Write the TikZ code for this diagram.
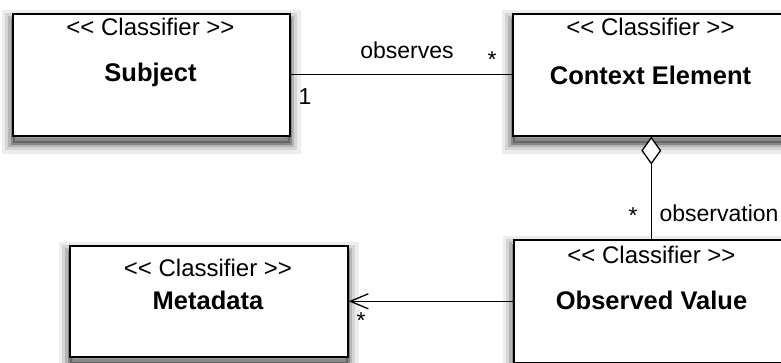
\documentclass[tikz,border=0pt]{standalone}
\usepackage{fontspec}
\setmainfont{Liberation Sans}
\usetikzlibrary{positioning,arrows.meta}

\newcommand{\stereotxt}{<\kern0pt< Classifier >\kern0pt>}

\tikzset{
  softshadow/.style={
    preaction={draw=black, opacity=0.07, line width=22pt, transform canvas={yshift=-7pt}},
    preaction={draw=black, opacity=0.10, line width=15pt, transform canvas={yshift=-7pt}},
    preaction={draw=black, opacity=0.15, line width=9pt, transform canvas={yshift=-7pt}},
    preaction={draw=black, fill=black, opacity=0.25, line width=4pt, transform canvas={yshift=-7pt}}},
  classbox/.style={draw, line width=1.6pt, fill=white, anchor=north west,
    minimum width=277pt, minimum height=122pt, softshadow},
  stereo/.style={font=\fontsize{24}{28}\selectfont, inner sep=0pt},
  cname/.style={font=\fontsize{25.5}{30}\selectfont\bfseries, inner sep=0pt},
  lbl/.style={font=\fontsize{23}{28}\selectfont, inner sep=0pt},
  conn/.style={line width=1.3pt},
}

\begin{document}
\begin{tikzpicture}[x=1pt, y=-1pt]
  \useasboundingbox (0,0) rectangle (781,363);
  \clip (0,0) rectangle (781,363);

  % classes
  \node[classbox] (subj) at (12,13) {};
  \node[classbox] (ctx) at (512,13) {};
  \node[classbox, minimum width=278pt, minimum height=111pt] (meta) at (69,245) {};
  \node[classbox, minimum height=123pt] (obs) at (513,239) {};

  \node[stereo] (subj-st) at (150.5,27) {\stereotxt};
  \node[cname] (subj-name) at (150.5,75) {Subject};
  \node[stereo] (ctx-st) at (650.5,27) {\stereotxt};
  \node[cname] (ctx-name) at (650.5,75) {Context Element};
  \node[stereo] (meta-st) at (208,268) {\stereotxt};
  \node[cname] (meta-name) at (208,300) {Metadata};
  \node[stereo] (obs-st) at (651.5,255) {\stereotxt};
  \node[cname] (obs-name) at (651.5,300) {Observed Value};

  % associations
  \draw[conn] (subj.east) -- (ctx.west);
  \draw[conn, {Diamond[open, fill=white, length=28pt, width=20pt]}-] (ctx.south) -- (ctx.south |- obs.north);
  \draw[conn, -{Straight Barb[length=18pt, width=15pt]}] (obs.west) -- (meta.east);

  \node[lbl] (obs-lbl) at (407,50) {observes};
  \node[lbl] (obs-m1) at (492,60) {*};
  \node[lbl] (obs-m2) at (305,97) {1};
  \node[lbl] (agg-m) at (633,216) {*};
  \node[lbl] (agg-lbl) at (719,213) {observation};
  \node[lbl] (dir-m) at (361,321) {*};
\end{tikzpicture}
\end{document}
